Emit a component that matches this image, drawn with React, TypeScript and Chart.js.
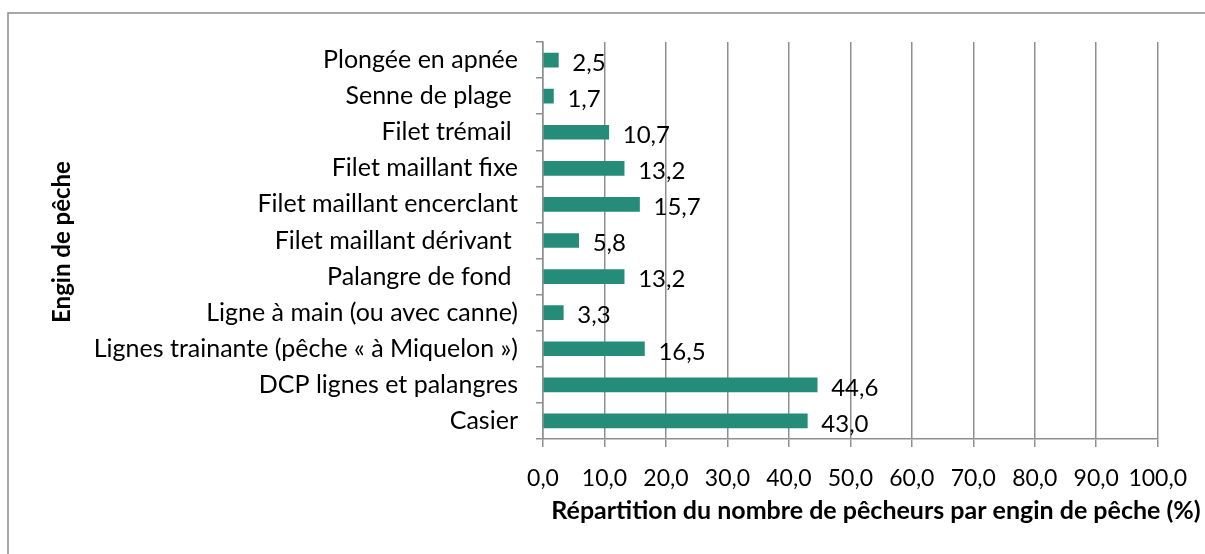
import React, { useEffect, useRef } from "react";
import { Chart, registerables } from "chart.js";

Chart.register(...registerables);

const categories = [
  "Plongée en apnée",
  "Senne de plage ",
  "Filet trémail ",
  "Filet maillant fixe",
  "Filet maillant encerclant",
  "Filet maillant dérivant ",
  "Palangre de fond ",
  "Ligne à main (ou avec canne)",
  "Lignes trainante (pêche « à Miquelon »)",
  "DCP lignes et palangres",
  "Casier",
];
const values = [2.5, 1.7, 10.7, 13.2, 15.7, 5.8, 13.2, 3.3, 16.5, 44.6, 43.0];
const xTitle = "Répartition du nombre de pêcheurs par engin de pêche (%)";
const yTitle = "Engin de pêche";

const FONT = "Lato, 'Open Sans', sans-serif";
const fmt = (v: number) => v.toFixed(1).replace(".", ",");

export default function App() {
  const ref = useRef<HTMLCanvasElement>(null);
  useEffect(() => {
    const prevMargin = document.body.style.margin;
    document.body.style.margin = "0";
    const extras = {
      id: "extras",
      afterDatasetsDraw(chart: any) {
        const ctx = chart.ctx;
        const meta = chart.getDatasetMeta(0);
        ctx.save();
        ctx.fillStyle = "#000";
        ctx.font = `24px ${FONT}`;
        ctx.textAlign = "left";
        ctx.textBaseline = "middle";
        meta.data.forEach((bar: any, i: number) => {
          ctx.fillText(fmt(values[i]), bar.x + 14, bar.y + 3);
        });
        ctx.restore();
      },
      afterDraw(chart: any) {
        const ctx = chart.ctx;
        ctx.save();
        // outer border
        ctx.strokeStyle = "#8c8c8c";
        ctx.lineWidth = 1.5;
        ctx.beginPath();
        ctx.moveTo(8, 560);
        ctx.lineTo(8, 13);
        ctx.lineTo(1210, 13);
        ctx.stroke();
        // titles
        ctx.fillStyle = "#000";
        ctx.textAlign = "center";
        ctx.textBaseline = "middle";
        ctx.font = `bold 25px ${FONT}`;
        ctx.fillText(xTitle, 876, 511);
        ctx.font = `bold 24px ${FONT}`;
        ctx.translate(62, 242);
        ctx.rotate(-Math.PI / 2);
        ctx.fillText(yTitle, 0, 0);
        ctx.restore();
      },
    };
    const chart = new Chart(ref.current!, {
      type: "bar",
      data: {
        labels: categories,
        datasets: [
          {
            data: values,
            backgroundColor: "#268C7A",
            borderWidth: 0,
            barThickness: 14,
          },
        ],
      },
      options: {
        indexAxis: "y",
        animation: false,
        responsive: false,
        maintainAspectRatio: false,
        layout: { padding: { top: 42, right: 42, left: 0, bottom: 0 } },
        plugins: { legend: { display: false }, tooltip: { enabled: false } },
        scales: {
          x: {
            min: 0,
            max: 100,
            ticks: {
              stepSize: 10,
              color: "#000",
              font: { family: FONT, size: 23 },
              padding: 18,
              maxRotation: 0,
              minRotation: 0,
              autoSkip: false,
              callback: (v: any) => fmt(Number(v)),
            },
            grid: {
              color: "#8f8f8f",
              lineWidth: 1.5,
              tickLength: 8,
            },
            border: { color: "#8f8f8f", width: 1.5 },
            afterFit: (s: any) => {
              s.height = 554 - 439;
            },
          },
          y: {
            ticks: {
              color: "#000",
              font: { family: FONT, size: 25 },
              padding: 18,
              autoSkip: false,
            },
            grid: {
              offset: true,
              drawOnChartArea: false,
              color: "#8f8f8f",
              lineWidth: 1.5,
              tickLength: 7,
            },
            border: { color: "#8f8f8f", width: 1.5 },
            afterFit: (s: any) => {
              s.width = 543;
            },
          },
        },
      },
      plugins: [extras],
    });
    return () => {
      chart.destroy();
      document.body.style.margin = prevMargin;
    };
  }, []);
  return (
    <div style={{ position: "fixed", left: 0, top: 0, width: 1205, height: 554, background: "#fff" }}>
      <canvas ref={ref} width={1205} height={554} style={{ display: "block" }} />
    </div>
  );
}
